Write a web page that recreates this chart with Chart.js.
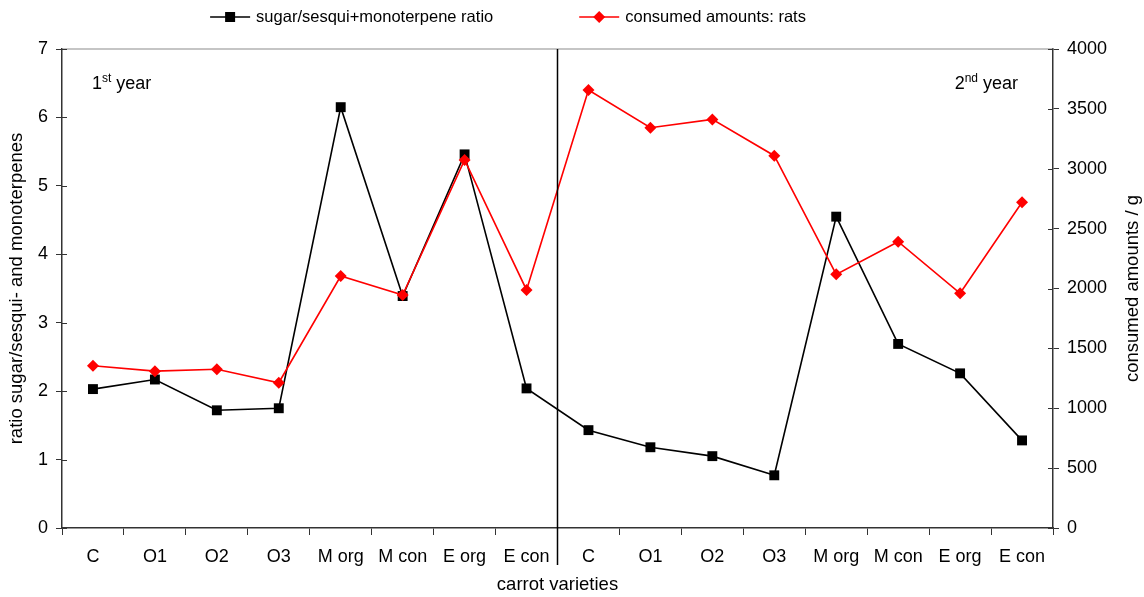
<!DOCTYPE html>
<html>
<head>
<meta charset="utf-8">
<script src="https://cdn.jsdelivr.net/npm/chart.js@4.4.0/dist/chart.umd.min.js"></script>
<style>
  html, body { margin: 0; padding: 0; background: #fff; }
  #wrap { width: 1144px; height: 597px; }
</style>
</head>
<body>
<div id="wrap"><canvas id="myChart"></canvas></div>
<script>
// carrot varieties, 1st year then 2nd year
const varieties = ['C', 'O1', 'O2', 'O3', 'M org', 'M con', 'E org', 'E con',
                   'C', 'O1', 'O2', 'O3', 'M org', 'M con', 'E org', 'E con'];

// sugar/sesqui+monoterpene ratio (left axis)
const ratioValues = [2.03, 2.17, 1.72, 1.75, 6.15, 3.39, 5.46, 2.04,
                     1.43, 1.18, 1.05, 0.77, 4.55, 2.69, 2.26, 1.28];

// consumed amounts by rats in g (right axis)
const consumedValues = [1355, 1310, 1326, 1213, 2104, 1945, 3074, 1988,
                        3657, 3343, 3412, 3109, 2118, 2391, 1960, 2720];

const leftTicks = [0, 7, 1];      // min, max, step
const rightTicks = [0, 4000, 500];

const FONT = "'Liberation Sans', Arial, sans-serif";
const AXIS = '#333333';

Chart.defaults.font.family = FONT;
Chart.defaults.color = '#000';

// extras: frame top line, inner ticks, year divider, year labels, legend, right title
const extras = {
    id: 'extras',
    afterDraw(chart) {
        const { ctx, chartArea: a, scales } = chart;
        ctx.save();

        // grey top frame line
        ctx.strokeStyle = '#8c8c8c';
        ctx.lineWidth = 1.2;
        ctx.beginPath();
        ctx.moveTo(a.left, a.top);
        ctx.lineTo(a.right, a.top);
        ctx.stroke();

        // tick marks crossing into the plot on both value axes
        ctx.strokeStyle = AXIS;
        ctx.lineWidth = 1;
        ctx.beginPath();
        scales.y.ticks.forEach(t => {
            const py = Math.round(scales.y.getPixelForValue(t.value)) + 0.5;
            ctx.moveTo(a.left, py);
            ctx.lineTo(a.left + 5, py);
        });
        scales.y1.ticks.forEach(t => {
            const py = Math.round(scales.y1.getPixelForValue(t.value)) + 0.5;
            ctx.moveTo(a.right - 5, py);
            ctx.lineTo(a.right, py);
        });
        ctx.stroke();

        // divider between the two years
        const xDiv = scales.x.getPixelForValue(7.5);
        ctx.strokeStyle = '#000';
        ctx.lineWidth = 1.5;
        ctx.beginPath();
        ctx.moveTo(xDiv, a.top);
        ctx.lineTo(xDiv, a.bottom + 37);
        ctx.stroke();

        // year labels with superscripts
        function yearLabel(num, sup, x, y, alignRight) {
            ctx.textBaseline = 'alphabetic';
            ctx.textAlign = 'left';
            ctx.font = '18px ' + FONT;
            const w1 = ctx.measureText(num).width;
            const w3 = ctx.measureText(' year').width;
            ctx.font = '12px ' + FONT;
            const w2 = ctx.measureText(sup).width;
            let x0 = alignRight ? x - (w1 + w2 + w3) : x;
            ctx.fillStyle = '#000';
            ctx.font = '18px ' + FONT;
            ctx.fillText(num, x0, y);
            ctx.font = '12px ' + FONT;
            ctx.fillText(sup, x0 + w1, y - 7);
            ctx.font = '18px ' + FONT;
            ctx.fillText(' year', x0 + w1 + w2, y);
        }
        yearLabel('1', 'st', a.left + 30, a.top + 40, false);
        yearLabel('2', 'nd', a.right - 35, a.top + 40, true);

        // legend
        ctx.font = '16.5px ' + FONT;
        ctx.textBaseline = 'middle';
        const items = [
            { text: 'sugar/sesqui+monoterpene ratio', color: '#000', style: 'rect' },
            { text: 'consumed amounts: rats', color: '#ff0000', style: 'rectRot' }
        ];
        const lineLen = 40, gapText = 6, gapItem = 86;
        let total = 0;
        items.forEach((it, i) => {
            it.w = ctx.measureText(it.text).width;
            total += lineLen + gapText + it.w + (i ? gapItem : 0);
        });
        let x = 508 - total / 2;
        const ly = 17;
        items.forEach((it, i) => {
            if (i) x += gapItem;
            ctx.strokeStyle = it.color;
            ctx.fillStyle = it.color;
            ctx.lineWidth = 1.6;
            ctx.beginPath();
            ctx.moveTo(x, ly);
            ctx.lineTo(x + lineLen, ly);
            ctx.stroke();
            const cx = x + lineLen / 2;
            ctx.beginPath();
            if (it.style === 'rect') {
                ctx.rect(cx - 5, ly - 5, 10, 10);
            } else {
                ctx.moveTo(cx - 6, ly);
                ctx.lineTo(cx, ly - 6);
                ctx.lineTo(cx + 6, ly);
                ctx.lineTo(cx, ly + 6);
                ctx.closePath();
            }
            ctx.fill();
            ctx.fillStyle = '#000';
            ctx.textAlign = 'left';
            ctx.fillText(it.text, x + lineLen + gapText, ly);
            x += lineLen + gapText + it.w;
        });

        // right axis title, reading bottom to top
        ctx.save();
        ctx.translate(1133, (a.top + a.bottom) / 2);
        ctx.rotate(-Math.PI / 2);
        ctx.font = '18.5px ' + FONT;
        ctx.textAlign = 'center';
        ctx.textBaseline = 'middle';
        ctx.fillStyle = '#000';
        ctx.fillText('consumed amounts / g', 0, 0);
        ctx.restore();

        ctx.restore();
    }
};

const ctx = document.getElementById('myChart').getContext('2d');

const myChart = new Chart(ctx, {
    type: 'line',
    data: {
        labels: varieties,
        datasets: [{
            label: 'sugar/sesqui+monoterpene ratio',
            data: ratioValues,
            yAxisID: 'y',
            borderColor: '#000',
            backgroundColor: '#000',
            borderWidth: 1.6,
            pointStyle: 'rect',
            pointRadius: 7,
            pointBorderWidth: 0,
            order: 1
        }, {
            label: 'consumed amounts: rats',
            data: consumedValues,
            yAxisID: 'y1',
            borderColor: '#ff0000',
            backgroundColor: '#ff0000',
            borderWidth: 1.6,
            pointStyle: 'rectRot',
            pointRadius: 6,
            pointBorderWidth: 0,
            order: 0
        }]
    },
    options: {
        responsive: true,
        maintainAspectRatio: false,
        animation: false,
        layout: {
            padding: { top: 49, bottom: 0, left: 0, right: 0 }
        },
        plugins: {
            legend: { display: false },
            tooltip: { enabled: false }
        },
        scales: {
            x: {
                offset: true,
                grid: {
                    offset: true,
                    drawOnChartArea: false,
                    tickLength: 7,
                    color: AXIS
                },
                border: { color: AXIS, width: 1.5 },
                ticks: {
                    font: { size: 18 },
                    color: '#000',
                    padding: 11,
                    maxRotation: 0,
                    autoSkip: false
                },
                title: {
                    display: true,
                    text: 'carrot varieties',
                    font: { size: 18.5 },
                    color: '#000',
                    padding: { top: 0, bottom: 1 }
                },
                afterFit: s => { s.height = 69; }
            },
            y: {
                position: 'left',
                min: leftTicks[0],
                max: leftTicks[1],
                grid: {
                    drawOnChartArea: false,
                    tickLength: 6,
                    color: AXIS
                },
                border: { color: AXIS, width: 1.5 },
                ticks: {
                    stepSize: leftTicks[2],
                    font: { size: 18 },
                    color: '#000',
                    padding: 8
                },
                title: {
                    display: true,
                    text: 'ratio sugar/sesqui- and monoterpenes',
                    font: { size: 18.5 },
                    color: '#000',
                    padding: { top: 6, bottom: 0 }
                },
                afterFit: s => { s.width = 62; }
            },
            y1: {
                position: 'right',
                min: rightTicks[0],
                max: rightTicks[1],
                grid: {
                    drawOnChartArea: false,
                    tickLength: 6,
                    color: AXIS
                },
                border: { color: AXIS, width: 1.5 },
                ticks: {
                    stepSize: rightTicks[2],
                    font: { size: 18 },
                    color: '#000',
                    padding: 8,
                    callback: v => String(v)
                },
                afterFit: s => { s.width = 91; }
            }
        }
    },
    plugins: [extras]
});
</script>
</body>
</html>
